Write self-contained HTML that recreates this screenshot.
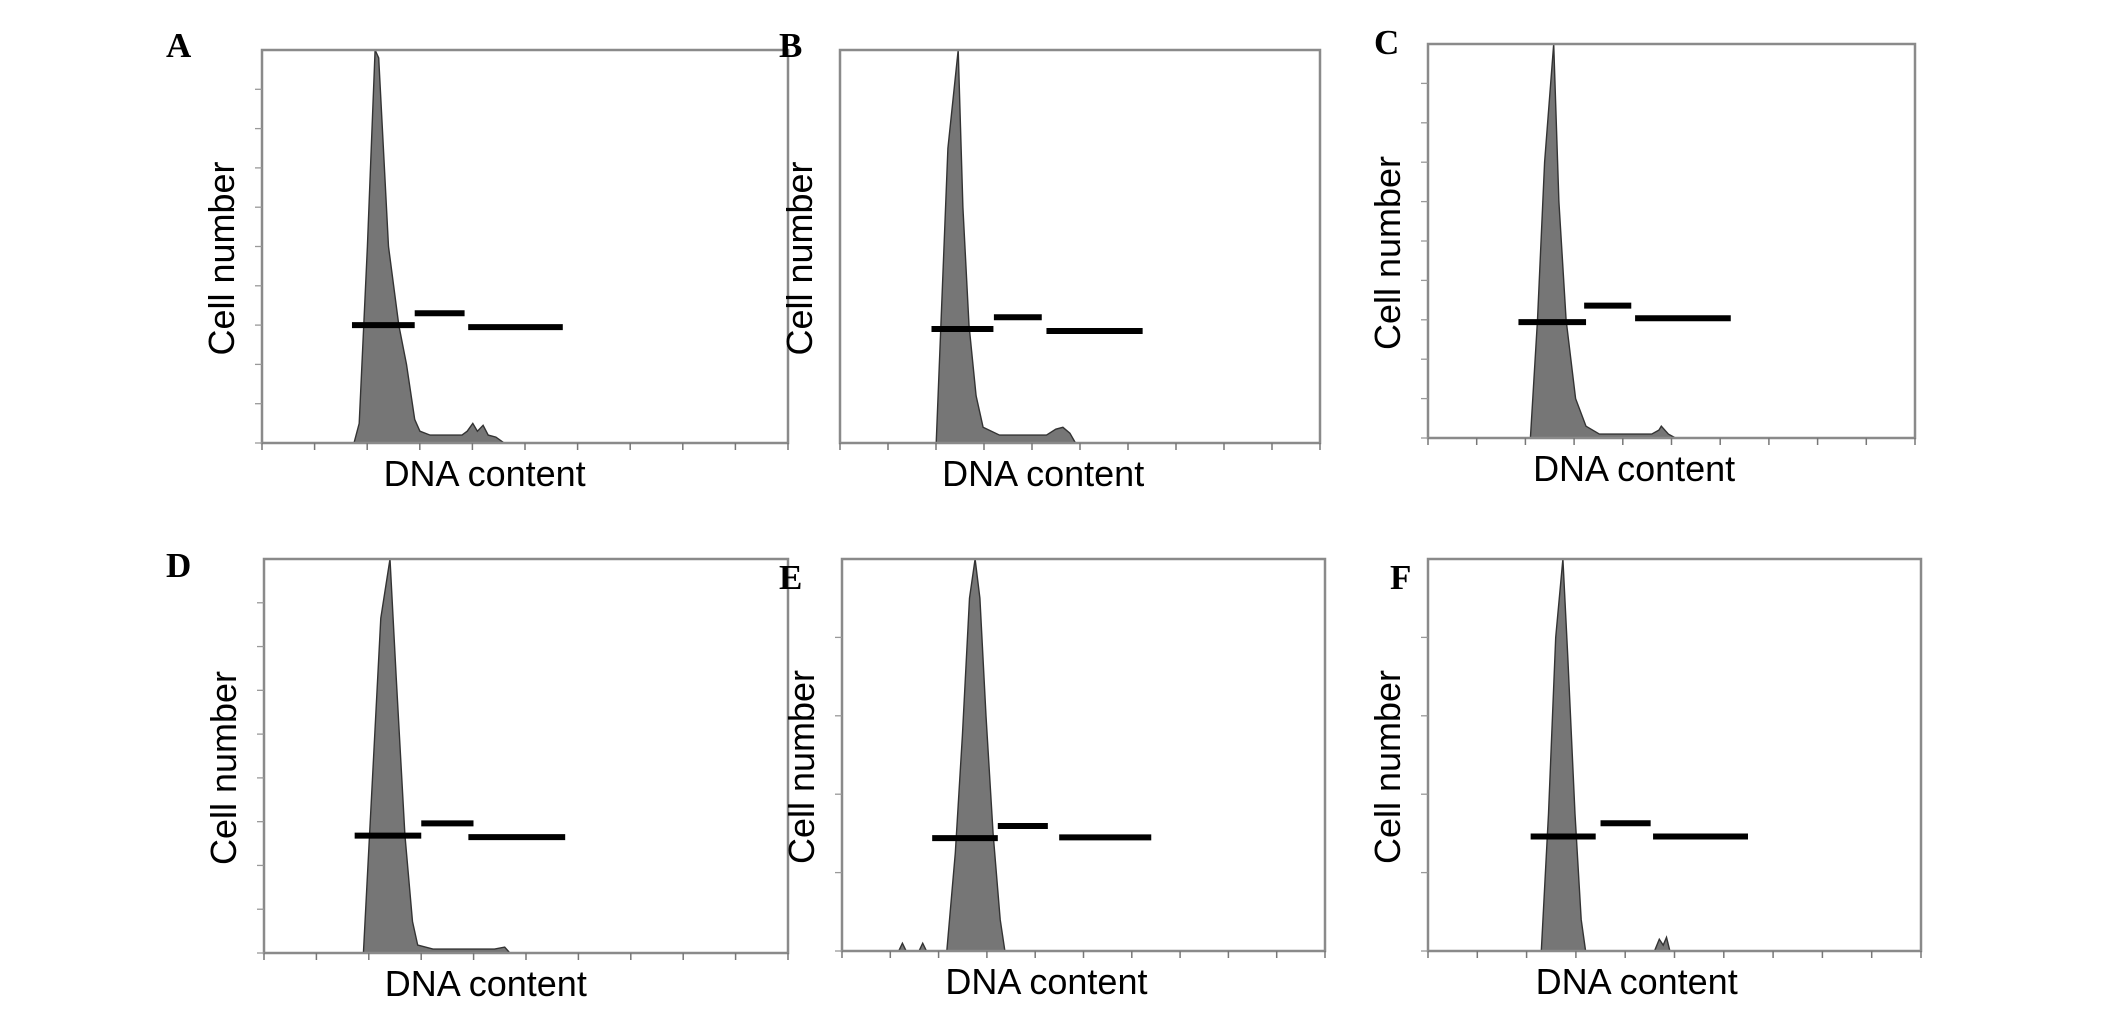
<!DOCTYPE html>
<html><head><meta charset="utf-8">
<style>
html,body{margin:0;padding:0;background:#fff;}
svg{display:block;}
</style></head>
<body>
<svg id="fig" width="2126" height="1010" viewBox="0 0 2126 1010" xmlns="http://www.w3.org/2000/svg"></svg>
<script>
// Histogram data (channel 0-1023, relative count 0-1)
const histA_x=[179,189,205,220,227,246,266,281,297,307,327,389,399,410,419,430,440,455,471];
const histA_y=[0,0.05,0.5,1.0,0.98,0.5,0.3,0.2,0.06,0.03,0.02,0.02,0.03,0.05,0.03,0.045,0.02,0.015,0];
const histB_x=[205,215,230,252,262,275,290,305,340,440,460,475,490,502];
const histB_y=[0,0.3,0.75,1.0,0.6,0.3,0.12,0.04,0.02,0.02,0.035,0.04,0.025,0];
const histC_x=[215,230,245,264,275,290,310,332,360,470,485,490,505,520];
const histC_y=[0,0.3,0.7,1.0,0.6,0.3,0.1,0.03,0.01,0.01,0.02,0.03,0.01,0];
const histD_x=[194,210,228,246,258,275,290,300,330,450,470,480];
const histD_y=[0,0.4,0.85,1.0,0.7,0.3,0.08,0.02,0.01,0.01,0.015,0];
const histE_x=[120,128,136,163,171,179,222,240,255,270,282,292,305,320,335,345];
const histE_y=[0,0.02,0,0,0.02,0,0,0.25,0.55,0.9,1.0,0.9,0.6,0.3,0.08,0];
const histF_x=[235,250,265,280,290,305,318,327,470,480,488,495,502];
const histF_y=[0,0.35,0.8,1.0,0.75,0.35,0.08,0,0,0.03,0.015,0.035,0];
// Gate markers: start channel, end channel, level
const gateStart={A:[175,297,401],B:[195,328,440],C:[190,328,435],D:[177,307,399],E:[191,330,460],F:[213,358,467]};
const gateEnd={A:[297,394,585],B:[327,430,645],C:[332,427,636],D:[307,409,588],E:[330,436,655],F:[348,462,664]};
const gateLevel={A:[0.30,0.33,0.295],B:[0.29,0.32,0.285],C:[0.294,0.336,0.304],D:[0.298,0.329,0.294],E:[0.288,0.319,0.29],F:[0.292,0.326,0.292]};
const yTickCount={A:10,B:0,C:10,D:9,E:5,F:5};
const panelLetters=["A","B","C","D","E","F"];

const panels={
 A:{x0:262,x1:788,y0:50,y1:443,lx:166,ly:57,hx:histA_x,hy:histA_y},
 B:{x0:840,x1:1320,y0:50,y1:443,lx:779,ly:57,hx:histB_x,hy:histB_y},
 C:{x0:1428,x1:1915,y0:44,y1:438,lx:1374,ly:54,hx:histC_x,hy:histC_y},
 D:{x0:264,x1:788,y0:559,y1:953,lx:166,ly:577,hx:histD_x,hy:histD_y},
 E:{x0:842,x1:1325,y0:559,y1:951,lx:779,ly:589,hx:histE_x,hy:histE_y},
 F:{x0:1428,x1:1921,y0:559,y1:951,lx:1390,ly:589,hx:histF_x,hy:histF_y}
};
const NS="http://www.w3.org/2000/svg";
const svg=document.getElementById('fig');
function mk(tag,attrs,parent){const e=document.createElementNS(NS,tag);for(const k in attrs)e.setAttribute(k,attrs[k]);(parent||svg).appendChild(e);return e;}

panelLetters.forEach(L=>{
 const p=panels[L];
 const g=mk('g',{});
 
 
 const xs=v=>p.x0+(v/1023)*(p.x1-p.x0);
 const ys=v=>p.y1-v*(p.y1-p.y0);
 let d='M'+xs(p.hx[0])+','+ys(0);
 p.hx.forEach((v,i)=>{d+=' L'+xs(v).toFixed(1)+','+ys(p.hy[i]).toFixed(1);});
 d+=' L'+xs(p.hx[p.hx.length-1])+','+ys(0)+' Z';
 const h=mk('path',{d:d,fill:'#767676',stroke:'#333','stroke-width':1.4},g);
 
 
 const box=mk('rect',{x:p.x0,y:p.y0,width:p.x1-p.x0,height:p.y1-p.y0,fill:'none',stroke:'#8a8a8a','stroke-width':2.5},g);
 
 
 for(let i=0;i<=10;i++){
  const tx=p.x0+i*(p.x1-p.x0)/10;
  const t=mk('line',{x1:tx,y1:p.y1,x2:tx,y2:p.y1+7,stroke:'#777','stroke-width':1.5},g);
  
  
 }
 const n=yTickCount[L];
 for(let i=0;i<n;i++){
  const ty=p.y1-i*(p.y1-p.y0)/n;
  const t=mk('line',{x1:p.x0-7,y1:ty,x2:p.x0,y2:ty,stroke:'#999','stroke-width':1.3},g);
  
  
 }
 gateStart[L].forEach((s,i)=>{
  const ln=mk('line',{x1:xs(s),y1:ys(gateLevel[L][i]),x2:xs(gateEnd[L][i]),y2:ys(gateLevel[L][i]),stroke:'#000','stroke-width':6},g);
  
  
 });
 const lt=mk('text',{x:p.lx,y:p.ly,'font-family':'Liberation Serif, serif','font-weight':'bold','font-size':35,fill:'#000'},g);
 lt.textContent=L;
 
 
 const xt=mk('text',{x:xs(433),y:p.y1+43,'font-family':'Liberation Sans, sans-serif','font-size':36,'text-anchor':'middle',fill:'#000'},g);
 xt.textContent='DNA content';
 
 
 const yx=p.x0-28, yy=(p.y0+p.y1)/2+12;
 const yt=mk('text',{x:yx,y:yy,transform:'rotate(-90 '+yx+' '+yy+')','font-family':'Liberation Sans, sans-serif','font-size':36,'text-anchor':'middle',fill:'#000'},g);
 yt.textContent='Cell number';
 
 
});
</script>
</body></html>
